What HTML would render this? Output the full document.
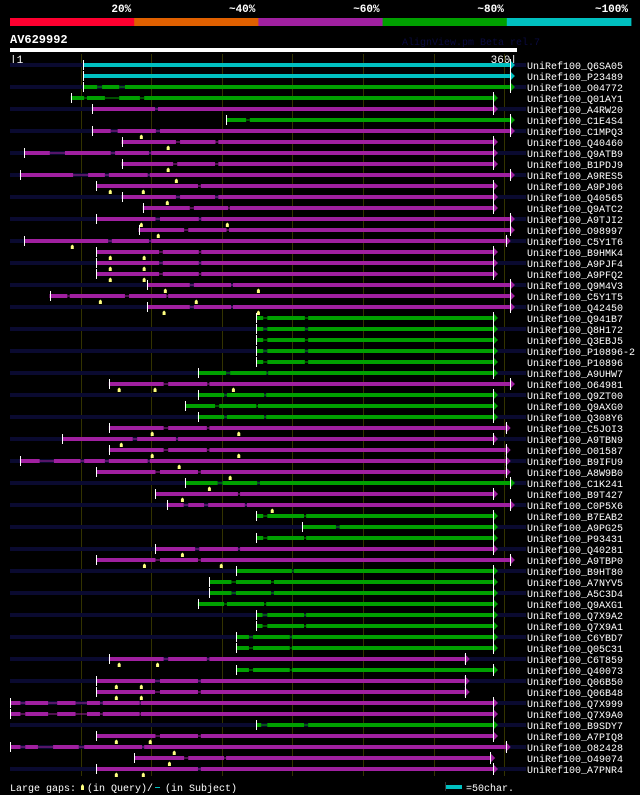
<!DOCTYPE html>
<html><head><meta charset="utf-8"><style>
html,body{margin:0;padding:0;background:#000;}
svg{display:block;font-family:"Liberation Mono",monospace;}
</style></head><body>
<svg id="chart" width="640" height="795" viewBox="0 0 640 795">
<rect x="0" y="0" width="640" height="795" fill="#000"/>
<g id="hdr"></g>
<text x="10" y="43" fill="#fff" font-size="12" font-weight="bold">AV629992</text>
<text x="402" y="45" fill="#0a0a40" font-size="10">AlignView.pm Beta rel.7</text>
<rect x="10" y="48" width="507" height="4" fill="#fff"/>
<text x="10" y="63" fill="#fff" font-size="11">|1</text>
<text x="517" y="63" fill="#fff" font-size="11" text-anchor="end">360|</text>
<g id="grid"></g>
<g id="rows"></g>
<text x="10" y="791" fill="#fff" font-size="10">Large gaps:</text>
<path d="M81 790 L81 786 L82.5 784 L84 786 L84 790 Z" fill="#ffff80"/>
<text x="87" y="791" fill="#fff" font-size="10">(in Query)/</text>
<rect x="155" y="787" width="5" height="1" fill="#00c0c0"/>
<text x="165" y="791" fill="#fff" font-size="10">(in Subject)</text>
<rect x="445" y="785" width="17" height="4" fill="#00c0c0"/>
<rect x="445" y="782" width="1" height="9" fill="#333"/>
<text x="466" y="791" fill="#fff" font-size="10">=50char.</text>
</svg>
<script>
const NS="http://www.w3.org/2000/svg";
const scaleLabels=["20%","~40%","~60%","~80%","~100%"];
const scaleColors=["#ff0030","#e06000","#a020a0","#00a000","#00c0c0"];
const gridTicks=[51,101,151,201,251,301,351];
const names=["Q6SA05","P23489","O04772","Q01AY1","A4RW20","C1E4S4","C1MPQ3","Q40460","Q9ATB9","B1PDJ9","A9RES5","A9PJ06","Q40565","Q9ATC2","A9TJI2","O98997","C5Y1T6","B9HMK4","A9PJF4","A9PFQ2","Q9M4V3","C5Y1T5","Q42450","Q941B7","Q8H172","Q3EBJ5","P10896-2","P10896","A9UHW7","O64981","Q9ZT00","Q9AXG0","Q308Y6","C5JOI3","A9TBN9","O01587","B9IFU9","A8W9B0","C1K241","B9T427","C0P5X6","B7EAB2","A9PG25","P93431","Q40281","A9TBP0","B9HT80","A7NYV5","A5C3D4","Q9AXG1","Q7X9A2","Q7X9A1","C6YBD7","Q05C31","C6T859","Q40073","Q06B50","Q06B48","Q7X999","Q7X9A0","B9SDY7","A7PIQ8","O82428","O49074","A7PNR4"];
const starts=[53,53,53,44,59,154.3,59,80,11,80,8,62,80,95,62,92,11,62,62,62,98,29,98,175.4,175.4,175.4,175.4,175.4,134,71,134,125,134,71,38,71,8,62,125,104,112,175.4,208,175.4,104,62,161,142,142,134,175.4,175.4,161,161,71,161,62,62,1,1,175.4,62,1,89,62];
const ends=[355,355,355,343,343,355,355,343,343,343,355,343,343,343,355,355,352,343,343,343,355,355,355,343,343,343,343,343,343,355,343,343,343,352,343,352,352,352,355,343,355,343,343,343,343,355,343,343,343,343,343,343,343,343,323,343,323,323,343,343,343,343,352,341,343];
const colorClass=["c","c","g","g","m","g","m","m","m","m","m","m","m","m","m","m","m","m","m","m","m","m","m","g","g","g","g","g","g","m","g","g","g","m","m","m","m","m","g","m","m","g","g","g","m","m","g","g","g","g","g","g","g","g","m","g","m","m","m","m","g","m","m","m","m"];
const darkBg=[1,0,1,0,1,0,1,0,1,0,1,0,1,0,1,0,1,0,1,0,1,0,1,0,1,0,1,0,1,0,1,0,1,0,1,0,1,0,1,0,1,0,1,0,1,0,1,0,1,0,1,0,1,0,1,0,1,0,1,0,1,0,1,0,1];
const subjGaps=[[],[],[[62.7,66.2],[78.3,82.4]],[[53.5,55.5],[68.2,78.3],[93,96]],[[103.7,105.8]],[[168.2,170.8]],[[72.3,77.2],[104.3,107.2]],[[118.5,121.4],[146.5,148.5]],[[29.2,39.9],[72.3,75.4],[99.4,100.9]],[[116.5,119.4],[146.2,148.5]],[[45.7,56.3],[68.2,71],[98.5,100]],[[134.1,136.1]],[[118.5,121.4],[146.2,148.5]],[[128.3,131.2],[155.5,156.6]],[[104,107.2],[134.7,136.4]],[[124.3,127.2],[154.3,156.1]],[[70.5,73.1],[99.4,100.9]],[[106.6,109.2],[134.7,136.4]],[[106.6,109.2],[134.7,136.4]],[[106.6,109.2],[134.7,136.4]],[[128.3,131.2],[157.5,158.9]],[[41.6,43.3],[82.4,85.3],[111.8,113]],[[128.3,131.2],[157.5,158.9]],[[180.3,183.2],[209.8,212.1]],[[180.3,183.2],[209.8,212.1]],[[180.3,183.2],[209.8,212.1]],[[180.3,183.2],[209.8,212.1]],[[180.3,183.2],[209.8,212.1]],[[154,156.9],[182.6,183.8]],[[109.8,113],[140.7,142.2]],[[152.6,154.6],[180.9,182.4]],[[146.2,149.1],[175.4,176.6]],[[152.6,154.6],[180.9,182.4]],[[109.8,113],[140.4,142.2]],[[87.9,91],[118.5,120]],[[109.8,113],[140.4,142.2]],[[22,32.1],[50.9,53.5],[68.2,71],[98.5,100]],[[104,107.2],[134.1,136.1]],[[148,151.4],[176,178]],[[162.4,163.9]],[[124,127.2],[138.4,141.3],[167.3,168.8]],[[180.3,183.2],[209.2,210.7]],[[231.8,234.4]],[[180.3,183.2],[209.2,210.7]],[[132.1,135],[162.4,163.9]],[[104,107.2],[134.1,136.1]],[[200.6,202]],[[157.8,161],[185.8,187.9]],[[157.8,161],[185.8,187.9]],[[152.6,154.6],[180.9,182.4]],[[179.8,183.2],[209.2,210.7]],[[179.8,183.2],[209.2,210.7]],[[170.2,173.1],[199.1,200.6]],[[170.2,173.1],[199.1,200.6]],[[109.8,113],[140.4,142.2]],[[170.2,173.1],[199.1,200.6]],[[103.7,107.2],[134.1,136.1]],[[103.7,107.2],[134.1,136.1]],[[8.4,11.8],[28,34.4],[47.4,55.5],[64.7,66.7],[92.8,93.6]],[[8.4,11.8],[28,34.4],[47.4,55.5],[64.7,66.7],[92.8,93.6]],[[178.9,183.2],[209.2,212.1]],[[104,107.2],[134.1,136.1]],[[8.4,11.8],[20.8,31.5],[49.7,53.5],[94.5,96]],[[124.3,127.2],[152.6,154]],[[134.1,136.1]]];
const queryGaps=[[],[],[],[],[],[],[94],[113],[],[113],[118.8],[72,95.4],[112.4],[],[94,154.9],[106],[45.1],[72,96],[72,96],[72,96],[111,176.9],[65,132.9],[110.1,176.9],[],[],[],[],[],[],[78.3,103.7,159.2],[],[],[],[101.7,163],[79.8],[101.7,163],[120.8],[156.9],[142.2],[123.1],[186.7],[],[],[],[123.1],[96.2,150.6],[],[],[],[],[],[],[],[],[78.3,105.5],[],[76.3,94],[76.3,94],[],[],[],[76.3,100.3],[117.3],[113.9],[76.3,95.4]];
const COL={c:"#00c0c0",g:"#00a000",m:"#a020a0"};
function xq(q){return 10+(q-1)*507/359;}
function yr(i){return 65+i*11;}
function mk(tag,attrs,parent){const e=document.createElementNS(NS,tag);for(const k in attrs)e.setAttribute(k,attrs[k]);parent.appendChild(e);return e;}
const hdr=document.getElementById('hdr');
scaleColors.forEach((c,i)=>{
  const r=mk('rect',{x:10+i*124.2,y:18,width:124.6,height:8,fill:c},hdr);
  
  
  const t=mk('text',{x:10+(i+1)*124.2-3,y:12,fill:'#fff','font-size':11,'font-weight':'bold','text-anchor':'end'},hdr);
  t.textContent=scaleLabels[i];
  
  
});
const grid=document.getElementById('grid');
gridTicks.forEach(q=>{
  const l=mk('rect',{x:Math.round(xq(q)),y:54,width:1,height:722,fill:'#333300'},grid);
  
  
});
const rows=document.getElementById('rows');
names.forEach((n,i)=>{
  const y=yr(i);
  const g=mk('g',{},rows);
  
  
  const col=COL[colorClass[i]];
  if(darkBg[i]){
    const d=mk('rect',{x:10,y:y-2,width:516,height:4,fill:'#0a0a30'},g);
    
    
  }
  const x0=xq(starts[i]),x1=xq(ends[i]);
  const gaps=subjGaps[i];
  let cur=x0;
  const segs=[];
  gaps.forEach(([a,b])=>{segs.push([cur,xq(a)]);const th=mk('rect',{x:xq(a),y:y-0.5,width:xq(b)-xq(a),height:1,fill:col},g);cur=xq(b);});
  segs.push([cur,x1]);
  segs.forEach(([a,b])=>{
    const s=mk('rect',{x:a,y:y-2,width:Math.max(0,b-a),height:4,fill:col},g);
    
    
  });
  const tk=mk('rect',{x:Math.round(x0),y:y-5,width:1,height:10,fill:'#fff'},g);
  
  
  const tri=mk('path',{d:`M${x1} ${y-5} L${x1+5} ${y} L${x1} ${y+5} Z`,fill:col},g);
  
  
  const tl=mk('rect',{x:Math.round(x1),y:y-6,width:1,height:12,fill:'#fff'},g);
  
  
  queryGaps[i].forEach(q=>{
    const mx=xq(q);
    const m=mk('path',{d:`M${mx-1.5} ${y+8} L${mx-1.5} ${y+5} L${mx} ${y+3.5} L${mx+1.5} ${y+5} L${mx+1.5} ${y+8} Z`,fill:'#ffff80'},g);
    
    
  });
  const t=mk('text',{x:527,y:y+4,fill:'#fff','font-size':10},g);
  t.textContent='UniRef100_'+n;
  
  
});
</script>
</body></html>
